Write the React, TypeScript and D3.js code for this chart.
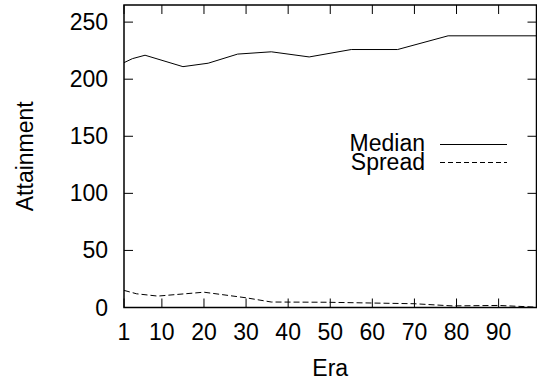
import React from 'react';
import * as d3 from 'd3';

// median attainment per era
const medianEras = [1, 3, 6, 15, 21, 28, 36, 45, 55, 66, 78, 99];
const medianValues = [214.5, 218, 221, 211, 214, 222, 224, 219.5, 226, 226, 238, 238];

// spread per era
const spreadEras = [1, 4, 9, 20, 30, 36, 49, 70, 79, 90, 99];
const spreadValues = [15, 12, 10, 13.4, 8.5, 4.8, 4.6, 3.3, 1.4, 1.8, 0.3];

const xTicks = [1, 10, 20, 30, 40, 50, 60, 70, 80, 90];
const yTicks = [0, 50, 100, 150, 200, 250];

const W = 537;
const H = 381;
const m = { left: 124, right: 536.5, top: 5, bottom: 307.5 };
const font = '"Liberation Sans", Arial, sans-serif';
const fs = 23;

export default function App() {
  const x = d3.scaleLinear().domain([1, 99]).range([m.left, m.right]);
  const y = d3.scaleLinear().domain([0, 265]).range([m.bottom, m.top]);

  const line = d3
    .line<number>()
    .x(d => d[0])
    .y(d => d[1]);

  const medianPts = medianEras.map((e, i) => [x(e), y(medianValues[i])]) as any;
  const spreadPts = spreadEras.map((e, i) => [x(e), y(spreadValues[i])]) as any;

  return (
    <svg
      width={W}
      height={H}
      style={{ position: 'absolute', left: 0, top: 0, background: '#fff' }}
      fontFamily={font}
    >
      <defs>
        <clipPath id="plot">
          <rect x={m.left} y={m.top} width={m.right - m.left} height={m.bottom - m.top} />
        </clipPath>
      </defs>

      {/* ticks, mirrored on all four sides */}
      {xTicks.map(t => (
        <g key={'x' + t} stroke="#000" strokeWidth={1}>
          <line x1={x(t)} x2={x(t)} y1={m.bottom} y2={m.bottom - 9} />
          <line x1={x(t)} x2={x(t)} y1={m.top} y2={m.top + 9} />
        </g>
      ))}
      {yTicks.map(t => (
        <g key={'y' + t} stroke="#000" strokeWidth={1}>
          <line x1={m.left} x2={m.left + 9} y1={y(t)} y2={y(t)} />
          <line x1={m.right} x2={m.right - 9} y1={y(t)} y2={y(t)} />
        </g>
      ))}

      <g clipPath="url(#plot)" fill="none" stroke="#000" strokeWidth={1}>
        <path d={line(medianPts) || ''} />
        <path d={line(spreadPts) || ''} strokeDasharray="6,3" />
      </g>

      <rect
        x={m.left}
        y={m.top}
        width={m.right - m.left}
        height={m.bottom - m.top}
        fill="none"
        stroke="#000"
        strokeWidth={1.5}
      />

      {xTicks.map(t => (
        <text key={'xl' + t} x={x(t)} y={340} textAnchor="middle" fontSize={fs}>
          {t}
        </text>
      ))}
      {yTicks.map(t => (
        <text key={'yl' + t} x={108} y={y(t) + 8} textAnchor="end" fontSize={fs}>
          {t}
        </text>
      ))}

      <text x={(m.left + m.right) / 2} y={376} textAnchor="middle" fontSize={fs}>
        Era
      </text>
      <text
        transform={`translate(${33},${(m.top + m.bottom) / 2}) rotate(-90)`}
        textAnchor="middle"
        fontSize={fs}
      >
        Attainment
      </text>

      {/* legend */}
      <text x={425} y={151} textAnchor="end" fontSize={fs}>Median</text>
      <line x1={440} x2={507} y1={144.5} y2={144.5} stroke="#000" strokeWidth={1} />
      <text x={425} y={170} textAnchor="end" fontSize={fs}>Spread</text>
      <line x1={440} x2={507} y1={162.5} y2={162.5} stroke="#000" strokeWidth={1} strokeDasharray="5,3" />
    </svg>
  );
}
